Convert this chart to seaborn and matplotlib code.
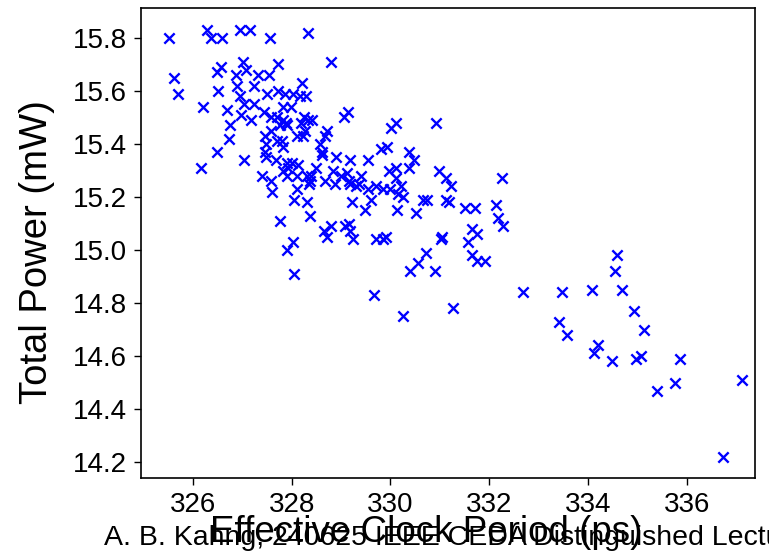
import numpy as np
import pandas as pd
import matplotlib
matplotlib.use('Agg')
import matplotlib.pyplot as plt
import seaborn as sns

# values
clock_period = [
    325.51, 325.62, 325.69, 326.28, 326.36, 326.59, 326.96, 327.16, 326.20, 326.50,
    326.49, 326.57, 326.70, 326.75, 326.87, 327.01, 327.07, 326.90, 326.96, 327.03,
    326.97, 327.17, 327.24, 327.23, 327.31, 327.57, 328.33, 328.79, 327.73, 327.55,
    328.20, 327.51, 327.73, 327.86, 328.02, 328.17, 328.29, 327.44, 327.82, 327.98,
    329.14, 329.06, 328.25, 328.33, 328.42, 327.58, 327.71, 327.82, 327.88, 328.19,
    326.73, 326.48, 326.16, 327.03, 327.46, 327.49, 327.46, 327.80, 327.83, 327.59,
    328.10, 328.23, 328.27, 327.76, 327.90, 328.71, 328.67, 328.57, 328.61, 328.61,
    328.89, 329.19, 327.49, 327.90, 328.00, 328.13, 328.50, 328.84, 329.11, 327.39,
    327.59, 327.83, 327.90, 328.10, 328.30, 328.37, 328.35, 328.67, 328.87, 329.18,
    329.30, 327.61, 328.10, 328.04, 328.30, 328.38, 329.22, 327.77, 328.65, 328.79,
    328.71, 329.08, 329.16, 329.19, 329.24, 328.03, 327.90, 328.04, 329.54, 329.81,
    329.93, 327.68, 329.00, 329.16, 329.40, 329.37, 329.54, 329.70, 329.60, 329.48,
    329.70, 330.01, 330.11, 330.92, 330.38, 330.47, 330.38, 329.97, 330.11, 330.12,
    329.84, 329.99, 330.21, 330.16, 330.25, 330.65, 330.73, 330.99, 331.12, 331.22,
    331.12, 331.19, 330.14, 330.51, 331.51, 331.71, 332.13, 332.25, 332.18, 332.27,
    331.66, 329.91, 329.84, 330.72, 330.55, 330.39, 330.90, 331.05, 331.02, 331.75,
    331.57, 331.66, 331.76, 331.91, 331.27, 330.25, 329.66, 332.69, 333.48, 334.09,
    333.41, 333.58, 334.54, 334.59, 334.69, 334.93, 335.13, 334.20, 334.12, 334.49,
    334.98, 335.08, 335.86, 335.77, 335.39, 337.12, 336.73, 327.71, 327.92, 328.39,
]
total_power = [
    15.80, 15.65, 15.59, 15.83, 15.80, 15.80, 15.83, 15.83, 15.54, 15.60,
    15.67, 15.69, 15.53, 15.47, 15.66, 15.71, 15.68, 15.62, 15.58, 15.55,
    15.51, 15.49, 15.62, 15.55, 15.66, 15.80, 15.82, 15.71, 15.70, 15.66,
    15.63, 15.59, 15.60, 15.59, 15.59, 15.58, 15.58, 15.52, 15.54, 15.54,
    15.52, 15.50, 15.50, 15.49, 15.49, 15.50, 15.50, 15.49, 15.48, 15.48,
    15.42, 15.37, 15.31, 15.34, 15.43, 15.40, 15.37, 15.41, 15.39, 15.45,
    15.43, 15.43, 15.45, 15.47, 15.47, 15.45, 15.43, 15.40, 15.37, 15.36,
    15.35, 15.34, 15.35, 15.33, 15.33, 15.32, 15.31, 15.30, 15.29, 15.28,
    15.26, 15.30, 15.28, 15.28, 15.28, 15.26, 15.25, 15.26, 15.25, 15.25,
    15.24, 15.22, 15.23, 15.19, 15.18, 15.13, 15.18, 15.11, 15.07, 15.09,
    15.05, 15.09, 15.10, 15.07, 15.04, 15.03, 15.00, 14.91, 15.34, 15.38,
    15.39, 15.34, 15.28, 15.26, 15.28, 15.25, 15.23, 15.24, 15.19, 15.15,
    15.04, 15.46, 15.48, 15.48, 15.37, 15.34, 15.31, 15.30, 15.31, 15.27,
    15.23, 15.23, 15.24, 15.21, 15.20, 15.19, 15.19, 15.30, 15.27, 15.24,
    15.19, 15.18, 15.15, 15.14, 15.16, 15.16, 15.17, 15.27, 15.12, 15.09,
    15.08, 15.05, 15.04, 14.99, 14.95, 14.92, 14.92, 15.05, 15.04, 15.06,
    15.03, 14.98, 14.96, 14.96, 14.78, 14.75, 14.83, 14.84, 14.84, 14.85,
    14.73, 14.68, 14.92, 14.98, 14.85, 14.77, 14.70, 14.64, 14.61, 14.58,
    14.59, 14.60, 14.59, 14.50, 14.47, 14.51, 14.22, 15.41, 15.31, 15.28,
]
x_ticks = [326, 328, 330, 332, 334, 336]
y_ticks = [14.2, 14.4, 14.6, 14.8, 15.0, 15.2, 15.4, 15.6, 15.8]
footer = 'A. B. Kahng, 240625 IEEE CEDA Distinguished Lecture'

df = pd.DataFrame({'period': clock_period, 'power': total_power})

sns.set_theme(style='ticks')
plt.rcParams['font.family'] = ['Liberation Sans', 'DejaVu Sans']
plt.rcParams['axes.edgecolor'] = 'black'
plt.rcParams['axes.labelcolor'] = 'black'
plt.rcParams['text.color'] = 'black'
plt.rcParams['xtick.color'] = 'black'
plt.rcParams['ytick.color'] = 'black'

fig = plt.figure(figsize=(7.69, 5.53), dpi=100)
ax = fig.add_axes([0.1834, 0.1356, 0.7984, 0.8499])

sns.scatterplot(data=df, x='period', y='power', marker='x', color='blue',
                s=55, linewidth=1.7, ax=ax)

ax.set_xlim(324.95, 337.38)
ax.set_ylim(14.14, 15.913)
ax.set_xticks(x_ticks)
ax.set_yticks(y_ticks)
ax.set_yticklabels([f'{v:.1f}' for v in y_ticks])
ax.tick_params(labelsize=20, length=5, width=1, direction='out', pad=5)
for sp in ax.spines.values():
    sp.set_linewidth(1.2)
    sp.set_visible(True)

ax.set_xlabel('Effective Clock Period (ps)', fontsize=26.5)
ax.set_ylabel('Total Power (mW)', fontsize=27.5)
ax.xaxis.set_label_coords(0.464, -0.078)
ax.yaxis.set_label_coords(-0.14, 0.48)

# slide footer sitting under the x label, as in the source screenshot
fig.text(104 / 769, 0.004, footer, fontsize=20.5, color='black',
         ha='left', va='bottom')

fig.savefig('out.png', dpi=100)
